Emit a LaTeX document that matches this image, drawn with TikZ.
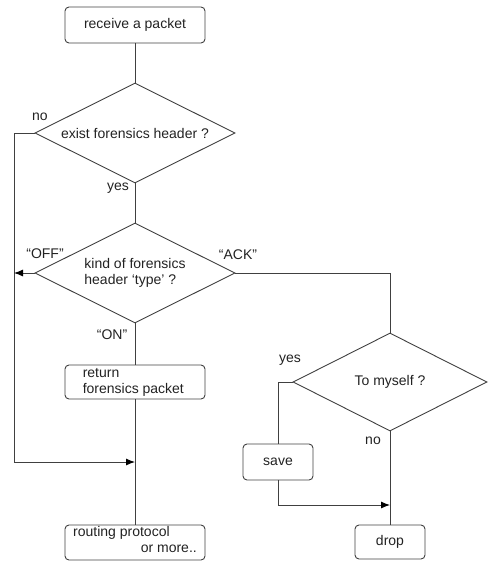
\documentclass[tikz,border=0pt]{standalone}
\usepackage{fontspec}
\setmainfont{Liberation Sans}
\usetikzlibrary{shapes.geometric,arrows.meta}
\definecolor{linegray}{HTML}{404040}
\definecolor{textgray}{HTML}{222222}
\begin{document}
\begin{tikzpicture}[x=1pt,y=-1pt,
  line/.style={draw=linegray, line width=0.9pt},
  box/.style={line, rounded corners=4pt, minimum width=140pt, minimum height=36pt, inner sep=0pt},
  smallbox/.style={box, minimum width=70pt},
  decision/.style={line, diamond, inner sep=0pt},
  txt/.style={font=\fontsize{14}{16}\selectfont, text=textgray, inner sep=0pt},
  tip/.style={-{Latex[length=9pt,width=7pt,color=black]}}
]
\useasboundingbox (0,0) rectangle (488,561);

% process boxes
\node[box,txt] (recv) at (135,25) {receive a packet};
\node[box, minimum height=34pt] (ret) at (135,382) {};
\node[txt, align=left, anchor=west] (rett) at ([xshift=18pt]ret.west) {return\\forensics packet};
\node[box, minimum height=35pt] (route) at (135,542.5) {};
\node[txt, anchor=west] (route1) at (73,533) {routing protocol};
\node[txt, anchor=east] (route2) at (197,549) {or more..};
\node[smallbox,txt] (save) at (278,462) {save};
\node[smallbox,txt, minimum height=34pt] (drop) at (390,542) {drop};

% decisions
\node[decision, minimum width=200pt, minimum height=100pt] (d1) at (135,133) {};
\node[txt] (d1t) at (d1) {exist forensics header ?};
\node[decision, minimum width=200pt, minimum height=100pt] (d2) at (135,273) {};
\node[txt, align=left] (d2t) at (d2) {kind of forensics\\header ‘type’ ?};
\node[decision, minimum width=194pt, minimum height=98pt] (d3) at (390,382) {};
\node[txt] (d3t) at (d3) {To myself ?};

% junction points
\coordinate (offend) at (14,273);
\coordinate (nojoin) at (14,462);
\coordinate (merge) at (135,462);
\coordinate (dropjoin) at (390,505);

% connectors
\draw[line] (recv) -- (d1.north);
\draw[line] (d1.south) -- (d2.north);
\draw[line,tip] (d1.west) -| (nojoin) -- (merge);
\draw[line,tip] (d2.west) -- (offend);
\draw[line] (d2.south) -- (ret.north);
\draw[line] (ret.south) -- (route.north);
\draw[line] (d2.east) -| (d3.north);
\draw[line] (d3.west) -| (save.north);
\draw[line,tip] (save.south) |- (dropjoin);
\draw[line] (d3.south) -- (drop.north);

% branch labels
\node[txt] (l1) at (40,117) {no};
\node[txt] (l2) at (118,188) {yes};
\node[txt] (l3) at (45,254) {“OFF”};
\node[txt] (l4) at (238,255) {“ACK”};
\node[txt] (l5) at (112,335) {“ON”};
\node[txt] (l6) at (290,360) {yes};
\node[txt] (l7) at (373,441) {no};
\end{tikzpicture}
\end{document}
